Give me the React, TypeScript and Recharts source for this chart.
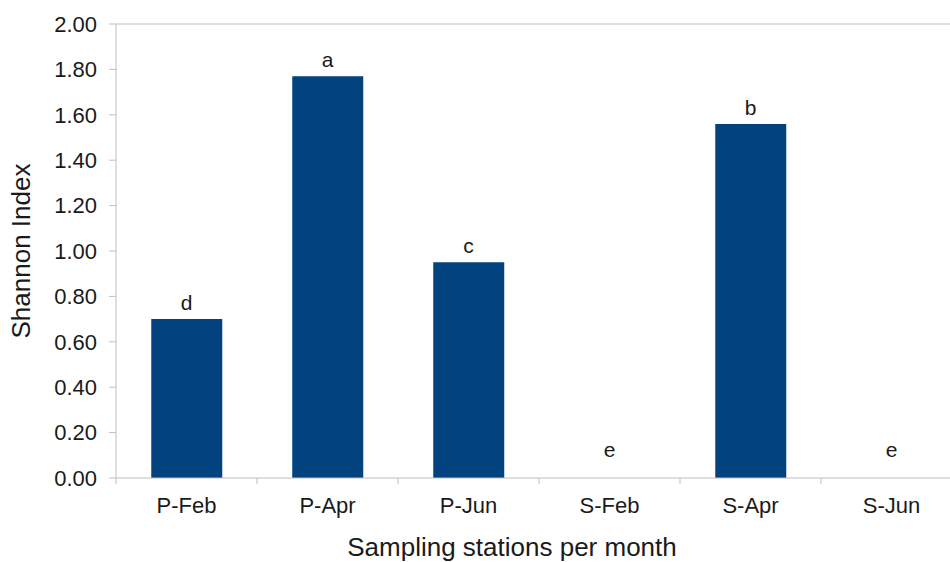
import { Bar, ComposedChart, Line, LabelList, Label, ReferenceLine, XAxis, YAxis } from "recharts"

// Shannon diversity per station/month, with significance letters
const stations = ["P-Feb", "P-Apr", "P-Jun", "S-Feb", "S-Apr", "S-Jun"]
const shannon = [0.7, 1.77, 0.95, 0, 1.56, 0]
const groups = ["d", "a", "c", "e", "b", "e"]
const yTicks = [0, 0.2, 0.4, 0.6, 0.8, 1.0, 1.2, 1.4, 1.6, 1.8, 2.0]

const data = stations.map((name, i) => ({ name, value: shannon[i], group: groups[i] }))

const FONT = "'Liberation Sans', Arial, sans-serif"
const AXIS = "#bfbfbf"
const BLUE = "#02437f"
const INK = "#1a1a1a"

// category ticks sit on the band edges, not the centres
const XTick = (props: any) => {
  const { x, y, payload } = props
  const half = payload?.offset ?? 0
  const base = y - 8
  return (
    <g>
      <line x1={x - half} y1={base} x2={x - half} y2={base + 6} stroke={AXIS} strokeWidth={1} />
      <text x={x} y={base + 35} textAnchor="middle" fontSize={22} fontFamily={FONT} fill={INK}>
        {payload.value}
      </text>
    </g>
  )
}

// letters ride on an invisible line so empty bars still get one
const GroupLabel = (props: any) => {
  const { x, y, value, index } = props
  const lift = shannon[index] === 0 ? 21 : 9
  return (
    <text x={x} y={y - lift} textAnchor="middle" fontSize={21} fontFamily={FONT} fill={INK}>
      {value}
    </text>
  )
}

export default function App() {
  return (
    <div style={{ position: "absolute", left: 0, top: 0, width: 950, height: 562, overflow: "hidden", background: "#fff" }}>
      <ComposedChart
        width={970}
        height={562}
        data={data}
        margin={{ top: 24, right: 8, left: 0, bottom: 0 }}
        barCategoryGap="25%"
      >
        <ReferenceLine y={2} stroke={AXIS} strokeWidth={1} ifOverflow="extendDomain" />
        <XAxis
          dataKey="name"
          height={84}
          stroke={AXIS}
          tickLine={false}
          tick={<XTick />}
          interval={0}
        >
          <Label
            value="Sampling stations per month"
            position="insideBottom"
            dx={-27}
            offset={6}
            style={{ fontSize: 26, fontFamily: FONT, fill: INK }}
          />
        </XAxis>
        <YAxis
          width={116}
          domain={[0, 2]}
          ticks={yTicks}
          interval={0}
          stroke={AXIS}
          tickSize={7}
          tickMargin={12}
          tickFormatter={(v: number) => v.toFixed(2)}
          tick={{ fontSize: 22, fontFamily: FONT, fill: INK }}
        >
          <Label
            value="Shannon Index"
            angle={-90}
            position="center"
            dx={-37}
            style={{ textAnchor: "middle", fontSize: 26, fontFamily: FONT, fill: INK }}
          />
        </YAxis>
        <Bar dataKey="value" fill={BLUE} isAnimationActive={false} />
        <Line dataKey="value" stroke="none" dot={false} activeDot={false} isAnimationActive={false}>
          <LabelList dataKey="group" content={<GroupLabel />} />
        </Line>
      </ComposedChart>
    </div>
  )
}
